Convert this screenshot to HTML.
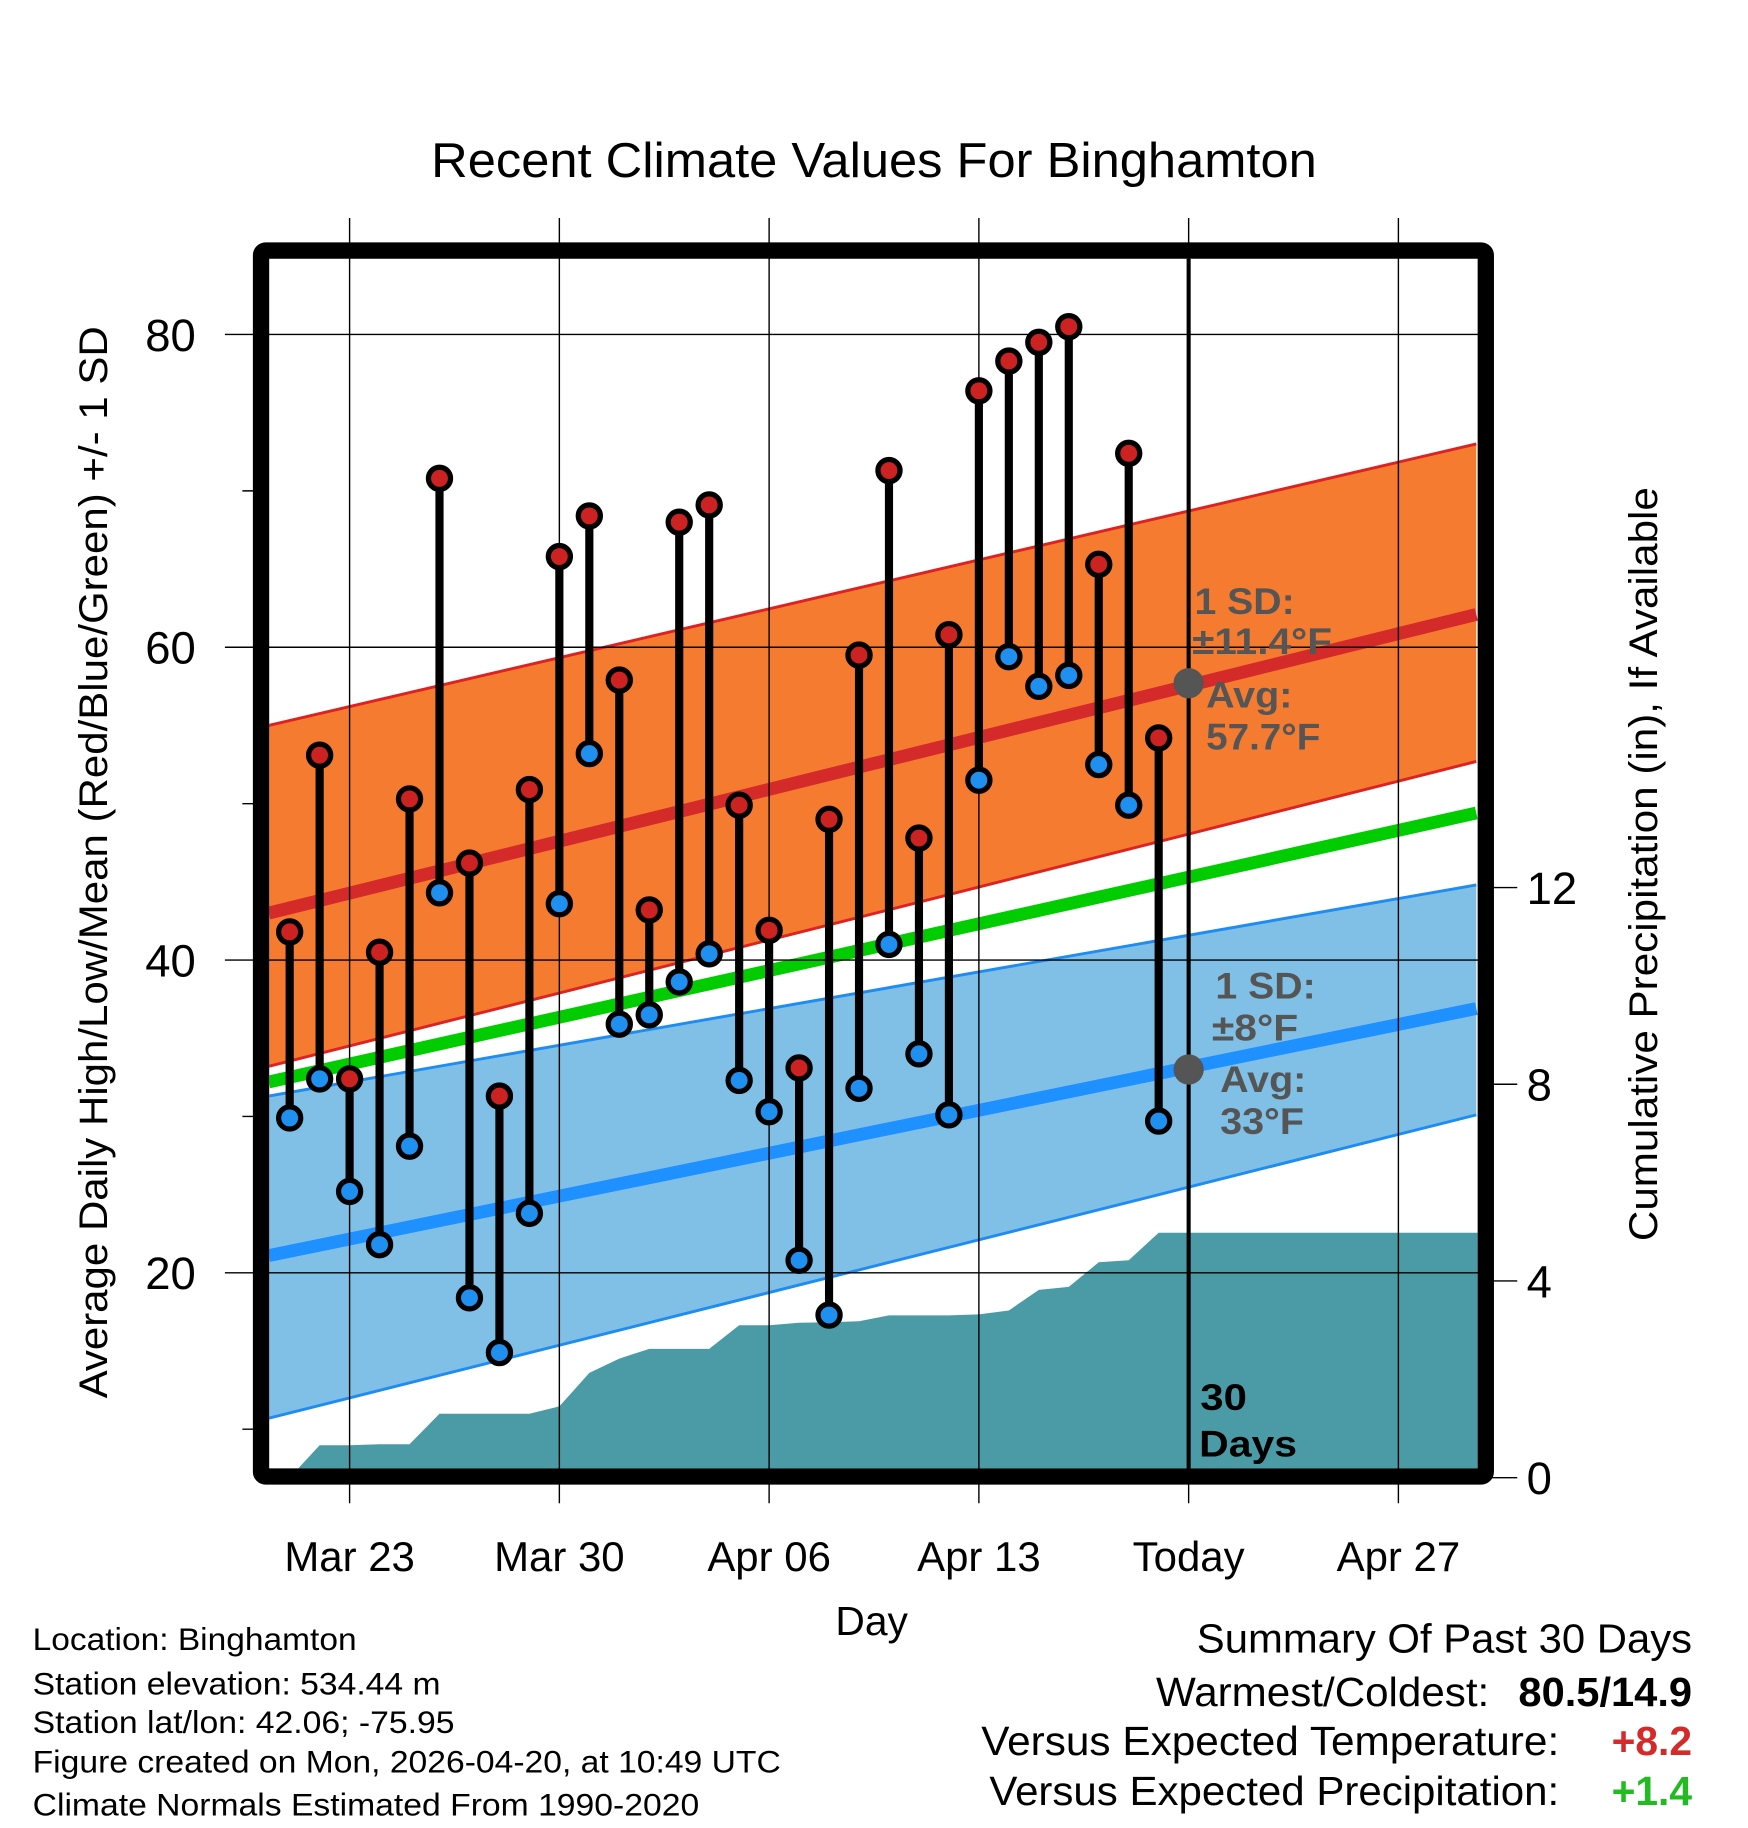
<!DOCTYPE html>
<html><head><meta charset="utf-8"><style>
html,body{margin:0;padding:0;background:#fff;}
svg{display:block;font-family:"Liberation Sans",Arial,sans-serif;}
</style></head><body>
<svg id="chart" width="1748" height="1828" viewBox="0 0 1500 1568.6" xmlns="http://www.w3.org/2000/svg">
<defs><clipPath id="plotclip"><rect x="231" y="222" width="1037" height="1038"/></clipPath></defs>
<rect x="0" y="0" width="1500" height="1568.6" fill="#fff"/>
<text x="370" y="152" font-size="42" textLength="760" lengthAdjust="spacingAndGlyphs">Recent Climate Values For Binghamton</text>
<g id="bands" clip-path="url(#plotclip)"></g>
<g id="grid"></g>
<g id="marks"></g>
<g id="labels"></g>
<rect x="224" y="215" width="1051" height="1052" rx="4" fill="none" stroke="#000" stroke-width="14"/>
<text transform="translate(92,1200) rotate(-90)" font-size="34" textLength="920" lengthAdjust="spacingAndGlyphs">Average Daily High/Low/Mean (Red/Blue/Green) +/- 1 SD</text>
<text transform="translate(1422,1065) rotate(-90)" font-size="34" textLength="647" lengthAdjust="spacingAndGlyphs">Cumulative Precipitation (in), If Available</text>
<text x="748" y="1403" font-size="35" text-anchor="middle">Day</text>
<g font-size="27">
<text x="28" y="1416" textLength="278" lengthAdjust="spacingAndGlyphs">Location: Binghamton</text>
<text x="28" y="1454" textLength="350" lengthAdjust="spacingAndGlyphs">Station elevation: 534.44 m</text>
<text x="28" y="1487" textLength="362" lengthAdjust="spacingAndGlyphs">Station lat/lon: 42.06; -75.95</text>
<text x="28" y="1521" textLength="642" lengthAdjust="spacingAndGlyphs">Figure created on Mon, 2026-04-20, at 10:49 UTC</text>
<text x="28" y="1558" textLength="572" lengthAdjust="spacingAndGlyphs">Climate Normals Estimated From 1990-2020</text>
</g>
<g font-size="35">
<text x="1027" y="1418" textLength="425" lengthAdjust="spacingAndGlyphs">Summary Of Past 30 Days</text>
<text x="992" y="1464" textLength="286" lengthAdjust="spacingAndGlyphs">Warmest/Coldest:</text>
<text x="1303" y="1464" font-weight="bold" textLength="149" lengthAdjust="spacingAndGlyphs">80.5/14.9</text>
<text x="842" y="1506" textLength="496" lengthAdjust="spacingAndGlyphs">Versus Expected Temperature:</text>
<text x="1452" y="1506" text-anchor="end" font-weight="bold" fill="#d42a2a">+8.2</text>
<text x="849" y="1549" textLength="489" lengthAdjust="spacingAndGlyphs">Versus Expected Precipitation:</text>
<text x="1452" y="1549" text-anchor="end" font-weight="bold" fill="#22bb22">+1.4</text>
</g>
</svg>
<script>
const days = [-2,-1,0,1,2,3,4,5,6,7,8,9,10,11,12,13,14,15,16,17,18,19,20,21,22,23,24,25,26,27];
const highs = [41.8,53.1,32.4,40.5,50.3,70.8,46.2,31.3,50.9,65.8,68.4,57.9,43.2,68.0,69.1,49.9,41.9,33.1,49.0,59.5,71.3,47.8,60.8,76.4,78.3,79.5,80.5,65.3,72.4,54.2];
const lows = [29.9,32.4,25.2,21.8,28.1,44.3,18.4,14.9,23.8,43.6,53.2,35.9,36.5,38.6,40.4,32.3,30.3,20.8,17.3,31.8,41.0,34.0,30.1,51.5,59.4,57.5,58.2,52.5,49.9,29.7];
const precip = [0,0.66,0.66,0.68,0.68,1.3,1.3,1.3,1.3,1.45,2.13,2.42,2.62,2.62,2.62,3.1,3.1,3.15,3.16,3.18,3.3,3.3,3.3,3.32,3.4,3.82,3.88,4.38,4.42,4.98];
const normDays = [-2.7,37.6];
const normHighMean = [43.0,62.1];
const normHighUpper = [55.0,73.0];
const normHighLower = [33.2,52.7];
const normMean = [32.2,49.4];
const normLowMean = [21.1,36.9];
const normLowUpper = [31.3,44.8];
const normLowLower = [10.7,30.1];
const xTickDays = [0,7,14,21,28,35];
const xTickLabels = ["Mar 23","Mar 30","Apr 06","Apr 13","Today","Apr 27"];
const yTicks = [20,40,60,80];
const yMinor = [10,30,50,70];
const pTicks = [0,4,8,12];
const todayDay = 28;

const NS="http://www.w3.org/2000/svg";
const X = d => 300 + d*180/7;
const Y = v => 287 + (80-v)*13.42;
const P = v => 1268 - v*42.2;
function mk(tag, attrs, parent){const e=document.createElementNS(NS,tag);for(const k in attrs)e.setAttribute(k,attrs[k]);parent.appendChild(e);return e;}
const bands=document.getElementById('bands'), grid=document.getElementById('grid'), marks=document.getElementById('marks'), labels=document.getElementById('labels');
function linePts(arr){return normDays.map((d,i)=>X(d)+','+Y(arr[i])).join(' ');}
function band(up,lo,fill,stroke,name){
  const pts=normDays.map((d,i)=>X(d)+','+Y(up[i])).concat(normDays.slice().reverse().map((d,j)=>X(d)+','+Y(lo[normDays.length-1-j])));
  const e=mk('polygon',{points:pts.join(' '),fill:fill},bands);
  
  
  const a=mk('polyline',{points:linePts(up),fill:'none',stroke:stroke,'stroke-width':2.5},bands);
  
  
  const b=mk('polyline',{points:linePts(lo),fill:'none',stroke:stroke,'stroke-width':2.5},bands);
  
  
}
band(normHighUpper,normHighLower,'#f47b30','#dd2222','high-sd-band');
band(normLowUpper,normLowLower,'#80c0e6','#1e8cf0','low-sd-band');
{
  let pts=[X(days[0])+','+P(0)];
  days.forEach((d,i)=>pts.push(X(d)+','+P(precip[i])));
  pts.push('1275,'+P(precip[precip.length-1]));
  pts.push('1275,'+P(0));
  const e=mk('polygon',{points:pts.join(' '),fill:'#4a9ba5'},bands);
  
  
}
function mline(arr,color,name){
  const e=mk('polyline',{points:linePts(arr),fill:'none',stroke:color,'stroke-width':11},bands);
  
  
}
mline(normMean,'#00cc00','normal-mean-line');
mline(normHighMean,'#d42a2a','normal-high-line');
mline(normLowMean,'#1e90ff','normal-low-line');
xTickDays.forEach((d,i)=>{
  const g=mk('line',{x1:X(d),x2:X(d),y1:187,y2:1290,stroke:'#000','stroke-width':1.2},grid);
  
  
  const t=mk('text',{x:X(d),y:1348,'font-size':36,'text-anchor':'middle'},labels);
  t.textContent=xTickLabels[i];
  
  
});
yTicks.forEach(v=>{
  const g=mk('line',{x1:193,x2:1275,y1:Y(v),y2:Y(v),stroke:'#000','stroke-width':1.2},grid);
  
  
  const t=mk('text',{x:168,y:Y(v)+14,'font-size':39,'text-anchor':'end'},labels);
  t.textContent=v;
  
  
});
yMinor.forEach(v=>{
  const g=mk('line',{x1:208,x2:224,y1:Y(v),y2:Y(v),stroke:'#000','stroke-width':1.2},grid);
  
  
});
pTicks.forEach(v=>{
  const g=mk('line',{x1:1275,x2:1302,y1:P(v),y2:P(v),stroke:'#000','stroke-width':1.2},grid);
  
  
  const t=mk('text',{x:1310,y:P(v)+14,'font-size':39},labels);
  t.textContent=v;
  
  
});
{
  const e=mk('line',{x1:X(todayDay),x2:X(todayDay),y1:222,y2:1260,stroke:'#000','stroke-width':3.5},marks);
  
  
}
days.forEach((d,i)=>{
  const s=mk('line',{x1:X(d),x2:X(d),y1:Y(highs[i]),y2:Y(lows[i]),stroke:'#000','stroke-width':7},marks);
  
  
});
days.forEach((d,i)=>{
  const h=mk('circle',{cx:X(d),cy:Y(highs[i]),r:9.5,fill:'#cc2222',stroke:'#000','stroke-width':4.5},marks);
  
  
  const l=mk('circle',{cx:X(d),cy:Y(lows[i]),r:9.5,fill:'#2090f0',stroke:'#000','stroke-width':4.5},marks);
  
  
});
{
  const a=mk('circle',{cx:X(todayDay),cy:Y(57.7),r:13,fill:'#555'},marks);
  
  
  const b=mk('circle',{cx:X(todayDay),cy:Y(33),r:13,fill:'#555'},marks);
  
  
  const ann=[["1 SD:",1025,527,'#555',86],["±11.4°F",1023,561,'#555',120],["Avg:",1035,607,'#555',74],["57.7°F",1035,643,'#555',98],
    ["1 SD:",1043,857,'#555',86],["±8°F",1040,893,'#555',74],["Avg:",1047,937,'#555',74],["33°F",1047,973,'#555',72],
    ["30",1030,1210,'#000',40],["Days",1029,1250,'#000',84]];
  ann.forEach(a=>{
    const t=mk('text',{x:a[1],y:a[2],'font-size':32,'font-weight':'bold',fill:a[3],textLength:a[4],lengthAdjust:'spacingAndGlyphs'},labels);
    t.textContent=a[0];
    
    
  });
}
</script>
</body></html>
